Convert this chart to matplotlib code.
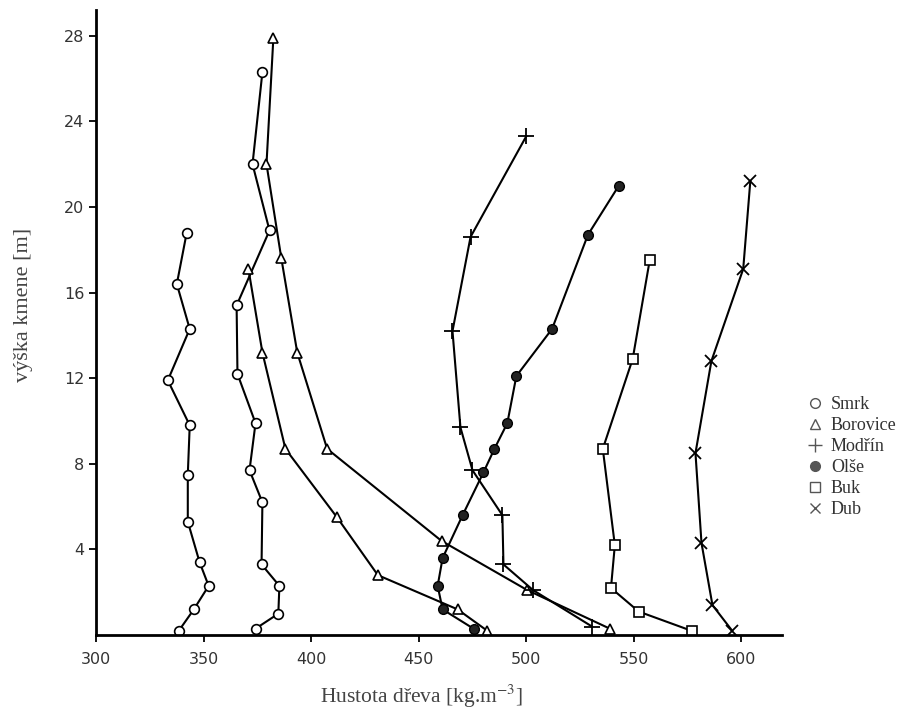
"""Hustota dřeva podél výšky kmene"""

import matplotlib.pyplot as plt
from matplotlib.lines import Line2D

# Smrk (two stands)
smrk1_x = [338.4, 345.4, 352.3, 348.1, 342.6, 342.6, 343.5, 333.3, 343.5, 337.5, 342.1]
smrk1_y = [0.2, 1.2, 2.3, 3.4, 5.3, 7.5, 9.8, 11.9, 14.3, 16.4, 18.8]
smrk2_x = [374.1, 384.7, 385.2, 376.9, 377.3, 371.3, 374.1, 365.7, 365.3, 380.6, 372.7, 377.3]
smrk2_y = [0.3, 1.0, 2.3, 3.3, 6.2, 7.7, 9.9, 12.2, 15.4, 18.9, 22.0, 26.3]

# Borovice (two stands)
borovice1_x = [538.9, 500.5, 460.6, 407.4, 393.5, 386.1, 379.2, 382.4]
borovice1_y = [0.3, 2.1, 4.4, 8.7, 13.2, 17.6, 22.0, 27.9]
borovice2_x = [481.9, 468.1, 431.0, 412.0, 388.0, 377.3, 370.8]
borovice2_y = [0.2, 1.2, 2.8, 5.5, 8.7, 13.2, 17.1]

modrin_x = [530.6, 503.2, 489.4, 488.9, 475.0, 469.4, 465.7, 474.1, 500.0]
modrin_y = [0.4, 2.1, 3.3, 5.6, 7.7, 9.7, 14.2, 18.6, 23.3]

olse_x = [475.5, 461.1, 458.8, 461.1, 470.4, 480.1, 485.2, 491.2, 495.4, 512.0, 528.7, 543.1]
olse_y = [0.3, 1.2, 2.3, 3.6, 5.6, 7.6, 8.7, 9.9, 12.1, 14.3, 18.7, 21.0]

buk_x = [576.9, 552.3, 539.4, 541.2, 535.6, 549.5, 557.4]
buk_y = [0.2, 1.1, 2.2, 4.2, 8.7, 12.9, 17.5]

dub_x = [595.8, 586.6, 581.5, 578.7, 586.1, 600.9, 604.2]
dub_y = [0.2, 1.4, 4.3, 8.5, 12.8, 17.1, 21.2]

legend_names = ["Smrk", "Borovice", "Modřín", "Olše", "Buk", "Dub"]
x_ticks = [300, 350, 400, 450, 500, 550, 600]
y_ticks = [4, 8, 12, 16, 20, 24, 28]

plt.rcParams["mathtext.fontset"] = "stix"

fig = plt.figure(figsize=(8.99, 7.12), dpi=100)
ax = fig.add_axes([0.107, 0.108, 0.763, 0.878])

open_style = dict(color="black", lw=1.5, markersize=7, markerfacecolor="white",
                  markeredgecolor="black", markeredgewidth=1.2)

ax.plot(smrk1_x, smrk1_y, marker="o", **open_style)
ax.plot(smrk2_x, smrk2_y, marker="o", **open_style)
ax.plot(borovice1_x, borovice1_y, marker="^", **open_style)
ax.plot(borovice2_x, borovice2_y, marker="^", **open_style)
ax.plot(modrin_x, modrin_y, marker="+", color="black", lw=1.5, markersize=11,
        markeredgewidth=1.3)
ax.plot(olse_x, olse_y, marker="o", color="black", lw=1.5, markersize=7,
        markerfacecolor="#222222")
ax.plot(buk_x, buk_y, marker="s", **open_style)
ax.plot(dub_x, dub_y, marker="x", color="black", lw=1.5, markersize=9,
        markeredgewidth=1.3)

ax.set_xlim(300, 619)
ax.set_ylim(0, 29.2)
ax.set_xticks(x_ticks)
ax.set_yticks(y_ticks)
for side in ["top", "right"]:
    ax.spines[side].set_visible(False)
for side in ["left", "bottom"]:
    ax.spines[side].set_linewidth(2)
ax.tick_params(axis="both", direction="out", length=5, width=1.3,
               labelsize=11.5, labelcolor="#333333")
ax.tick_params(axis="x", pad=7)

ax.set_xlabel("Hustota dřeva [kg.m$^{-3}$]", family="Liberation Serif",
              fontsize=15.5, color="#444444")
ax.xaxis.set_label_coords(0.474, -0.077)
ax.set_ylabel("výška kmene [m]", family="Liberation Serif", fontsize=16,
              color="#444444")
ax.yaxis.set_label_coords(-0.092, 0.528)

# marker-only legend
lg = "#555555"
handles = [
    Line2D([], [], ls="none", marker="o", markersize=7, markerfacecolor="white",
           markeredgecolor=lg),
    Line2D([], [], ls="none", marker="^", markersize=7, markerfacecolor="white",
           markeredgecolor=lg),
    Line2D([], [], ls="none", marker="+", markersize=10, markeredgecolor=lg),
    Line2D([], [], ls="none", marker="o", markersize=7, markerfacecolor=lg,
           markeredgecolor=lg),
    Line2D([], [], ls="none", marker="s", markersize=7, markerfacecolor="white",
           markeredgecolor=lg),
    Line2D([], [], ls="none", marker="x", markersize=7, markeredgecolor=lg),
]
leg = fig.legend(handles, legend_names, loc="upper left", bbox_to_anchor=(0.888, 0.454),
                 frameon=False, handlelength=1.0, handletextpad=0.4, labelspacing=0.22,
                 borderaxespad=0, prop={"family": "Liberation Serif", "size": 13})
for t in leg.get_texts():
    t.set_color("#333333")

fig.savefig("out.png", dpi=100)
